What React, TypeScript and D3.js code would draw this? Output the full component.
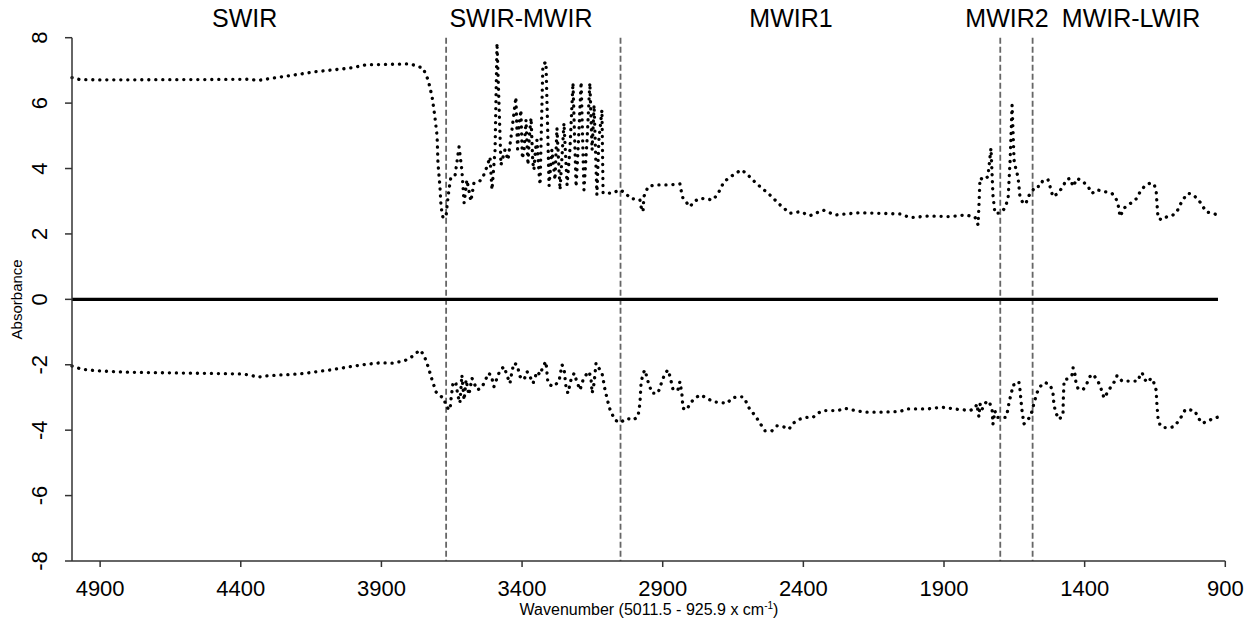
import React from "react";
import * as d3 from "d3";

const W = 1247;
const H = 625;

// axes
const xDomain = [5000, 900];
const yDomain = [-8, 8];
const xTicks = [4900, 4400, 3900, 3400, 2900, 2400, 1900, 1400, 900];
const yTicks = [-8, -6, -4, -2, 0, 2, 4, 6, 8];

// spectral regions
const regionBounds = [3670, 3050, 1700, 1585];
const regionLabels = ["SWIR", "SWIR-MWIR", "MWIR1", "MWIR2", "MWIR-LWIR"];
const regionLabelAt = [4386, 3404, 2444, 1676, 1235];

// [wavenumber, absorbance]
const upperSpectrum: [number, number][] = [
  [5000, 6.78], [4972, 6.72], [4900, 6.71], [4545, 6.72], [4367, 6.73], [4342, 6.69],
  [4250, 6.81], [4133, 6.96], [4012, 7.07], [3955, 7.17], [3798, 7.2], [3752, 7.07],
  [3734, 6.71], [3720, 6.2], [3710, 5.59], [3702, 4.98], [3699, 4.17], [3692, 3.45],
  [3688, 2.83], [3681, 2.49], [3670, 2.55], [3667, 2.83], [3660, 3.35], [3653, 3.74],
  [3638, 3.8], [3624, 4.66], [3614, 3.95], [3606, 2.95], [3596, 3.65], [3582, 3.0],
  [3571, 3.56], [3550, 3.62], [3539, 3.74], [3525, 4.05], [3514, 4.35], [3507, 3.35],
  [3496, 4.57], [3489, 7.84], [3475, 4.11], [3461, 4.57], [3450, 4.26], [3436, 5.18],
  [3422, 6.18], [3416, 4.6], [3411, 5.33], [3404, 5.79], [3399, 4.3], [3393, 4.57],
  [3386, 5.49], [3379, 4.11], [3374, 5.0], [3368, 5.55], [3362, 4.2], [3358, 3.96],
  [3352, 4.6], [3347, 4.87], [3340, 3.9], [3336, 3.5], [3326, 7.17], [3315, 7.26],
  [3304, 3.47], [3294, 4.57], [3283, 3.65], [3276, 5.24], [3265, 3.35], [3251, 5.39],
  [3240, 3.5], [3230, 4.57], [3219, 6.62], [3208, 3.44], [3201, 4.57], [3190, 6.65],
  [3180, 3.35], [3169, 4.87], [3159, 6.62], [3151, 4.57], [3144, 5.94], [3134, 3.2],
  [3127, 4.87], [3116, 5.79], [3112, 3.25], [3095, 3.25], [3080, 3.24], [3052, 3.35],
  [3031, 3.24], [3016, 3.09], [2981, 3.04], [2977, 2.83], [2970, 2.68], [2967, 3.14],
  [2952, 3.45], [2927, 3.5], [2874, 3.5], [2839, 3.53], [2835, 3.35], [2828, 3.09],
  [2803, 2.83], [2789, 2.99], [2767, 3.09], [2721, 3.04], [2703, 3.24], [2682, 3.6],
  [2650, 3.8], [2621, 3.96], [2604, 3.86], [2568, 3.55], [2519, 3.19], [2483, 2.89],
  [2448, 2.63], [2412, 2.68], [2376, 2.56], [2330, 2.73], [2288, 2.58], [2199, 2.65],
  [2056, 2.61], [2021, 2.5], [1950, 2.55], [1879, 2.53], [1825, 2.58], [1790, 2.52],
  [1779, 2.28], [1776, 2.83], [1772, 3.71], [1758, 3.65], [1744, 3.75], [1733, 4.62],
  [1726, 3.19], [1719, 2.63], [1701, 2.64], [1683, 2.79], [1672, 3.1], [1665, 4.26],
  [1658, 5.94], [1651, 4.26], [1644, 3.96], [1637, 3.75], [1630, 3.14], [1619, 2.94],
  [1609, 2.92], [1601, 3.14], [1587, 3.29], [1577, 3.45], [1559, 3.45], [1548, 3.65],
  [1530, 3.65], [1523, 3.45], [1513, 3.14], [1495, 3.24], [1477, 3.45], [1466, 3.65],
  [1452, 3.7], [1441, 3.45], [1427, 3.7], [1406, 3.6], [1388, 3.45], [1374, 3.24],
  [1356, 3.35], [1328, 3.29], [1303, 3.24], [1289, 3.09], [1281, 2.89], [1274, 2.53],
  [1260, 2.79], [1228, 2.99], [1214, 3.09], [1203, 3.29], [1186, 3.47], [1168, 3.55],
  [1154, 3.53], [1146, 3.35], [1143, 2.94], [1139, 2.48], [1125, 2.43], [1107, 2.53],
  [1086, 2.58], [1072, 2.68], [1061, 2.89], [1047, 3.09], [1033, 3.24], [1018, 3.22],
  [997, 3.06], [983, 2.89], [969, 2.68], [947, 2.63], [926, 2.58],
];

const lowerSpectrum: [number, number][] = [
  [5000, -2.04], [4964, -2.14], [4900, -2.19], [4794, -2.23], [4545, -2.26], [4403, -2.28],
  [4367, -2.31], [4342, -2.38], [4296, -2.33], [4189, -2.28], [4083, -2.16], [4012, -2.06],
  [3958, -1.99], [3905, -1.94], [3859, -1.95], [3816, -1.87], [3791, -1.75], [3763, -1.55],
  [3749, -1.7], [3734, -2.06], [3720, -2.46], [3706, -2.83], [3692, -2.95], [3678, -3.02],
  [3670, -3.28], [3656, -3.38], [3653, -3.08], [3645, -2.52], [3635, -2.57], [3628, -2.95],
  [3621, -3.17], [3614, -2.31], [3606, -3.08], [3599, -2.46], [3589, -2.92], [3578, -2.41],
  [3560, -2.77], [3546, -2.72], [3532, -2.52], [3521, -2.26], [3510, -2.31], [3500, -2.67],
  [3489, -2.41], [3478, -2.16], [3464, -2.06], [3450, -2.41], [3443, -2.57], [3436, -2.21],
  [3429, -1.95], [3418, -2.0], [3407, -2.36], [3393, -2.46], [3382, -2.21], [3372, -2.36],
  [3361, -2.57], [3347, -2.21], [3336, -2.31], [3326, -2.06], [3315, -1.9], [3308, -2.57],
  [3290, -2.67], [3269, -2.52], [3258, -2.0], [3251, -2.1], [3244, -2.67], [3237, -2.87],
  [3226, -2.46], [3215, -2.26], [3205, -2.52], [3194, -2.77], [3183, -2.46], [3169, -2.26],
  [3162, -2.21], [3155, -2.41], [3151, -2.87], [3144, -2.57], [3137, -1.95], [3127, -2.1],
  [3116, -2.25], [3105, -2.77], [3095, -3.13], [3087, -3.38], [3070, -3.69], [3052, -3.77],
  [3027, -3.64], [3006, -3.69], [2988, -3.59], [2981, -3.18], [2977, -2.57], [2970, -2.26],
  [2963, -2.16], [2952, -2.52], [2938, -2.87], [2917, -2.87], [2903, -2.52], [2892, -2.26],
  [2881, -2.16], [2874, -2.36], [2863, -2.77], [2846, -2.77], [2839, -2.52], [2832, -2.87],
  [2828, -3.33], [2814, -3.38], [2803, -3.18], [2785, -3.02], [2767, -2.92], [2743, -3.02],
  [2721, -3.13], [2671, -3.18], [2654, -3.02], [2636, -2.98], [2615, -2.98], [2600, -3.18],
  [2590, -3.38], [2572, -3.54], [2554, -3.79], [2536, -4.02], [2512, -4.02], [2494, -3.87],
  [2472, -3.89], [2451, -3.97], [2437, -3.79], [2412, -3.66], [2387, -3.61], [2366, -3.61],
  [2348, -3.48], [2330, -3.4], [2277, -3.4], [2252, -3.33], [2227, -3.38], [2181, -3.45],
  [2128, -3.45], [2056, -3.43], [2032, -3.35], [1957, -3.35], [1907, -3.3], [1854, -3.36],
  [1808, -3.4], [1790, -3.33], [1783, -3.2], [1779, -3.43], [1776, -3.59], [1772, -3.2],
  [1765, -3.38], [1761, -3.28], [1747, -3.1], [1737, -3.18], [1729, -3.38], [1726, -3.82],
  [1719, -3.41], [1712, -3.61], [1680, -3.61], [1673, -3.38], [1669, -3.16], [1658, -2.77],
  [1655, -2.62], [1641, -2.59], [1634, -2.52], [1630, -2.75], [1626, -3.13], [1623, -3.38],
  [1616, -3.81], [1601, -3.67], [1591, -3.54], [1584, -3.3], [1577, -3.08], [1569, -2.85],
  [1559, -2.67], [1541, -2.54], [1523, -2.62], [1513, -2.82], [1509, -3.23], [1502, -3.48],
  [1491, -3.67], [1477, -3.54], [1476, -3.08], [1473, -2.46], [1459, -2.43], [1445, -2.31],
  [1441, -2.09], [1434, -2.31], [1431, -2.54], [1424, -2.72], [1406, -2.77], [1392, -2.57],
  [1381, -2.36], [1370, -2.29], [1356, -2.46], [1346, -2.62], [1331, -3.02], [1317, -2.82],
  [1303, -2.62], [1289, -2.46], [1285, -2.33], [1267, -2.5], [1210, -2.5], [1203, -2.31],
  [1196, -2.24], [1186, -2.46], [1175, -2.54], [1164, -2.41], [1154, -2.55], [1146, -2.77],
  [1143, -3.23], [1139, -3.64], [1132, -3.84], [1122, -3.92], [1097, -3.92], [1082, -3.89],
  [1068, -3.74], [1054, -3.56], [1043, -3.38], [1036, -3.36], [1008, -3.41], [997, -3.61],
  [983, -3.79], [965, -3.74], [944, -3.64], [926, -3.6],
];

const baseline: [number, number][] = [[5000, 0], [926, 0]];

const font = "Arial, 'Liberation Sans', sans-serif";

export default function App() {
  const x = d3.scaleLinear().domain(xDomain).range([72, 1225.3]);
  const y = d3.scaleLinear().domain(yDomain).range([561, 37.7]);
  const line = d3
    .line<[number, number]>()
    .x((d) => x(d[0]))
    .y((d) => y(d[1]));

  const [x0, x1] = x.range();
  const [yb, yt] = y.range();

  const dotted = {
    fill: "none",
    stroke: "#000",
    strokeWidth: 3.3,
    strokeLinecap: "round" as const,
    strokeLinejoin: "round" as const,
    strokeDasharray: "0.1 6.9",
  };

  return (
    <div style={{ position: "absolute", left: 0, top: 0 }}>
      <svg width={W} height={H} style={{ display: "block", background: "#fff" }} fontFamily={font}>
        {/* region separators */}
        {regionBounds.map((b) => (
          <line
            key={b}
            x1={x(b)}
            x2={x(b)}
            y1={yt}
            y2={yb}
            stroke="#666"
            strokeWidth={1.8}
            strokeDasharray="6 3"
          />
        ))}

        {/* spectra */}
        <path d={line(upperSpectrum) || ""} {...dotted} />
        <path d={line(lowerSpectrum) || ""} {...dotted} />
        <path d={line(baseline) || ""} fill="none" stroke="#000" strokeWidth={3.2} />

        {/* y axis */}
        <line x1={x0} x2={x0} y1={yt} y2={yb} stroke="#333" strokeWidth={1.5} />
        {yTicks.map((t) => (
          <g key={t}>
            <line x1={x0 - 7} x2={x0} y1={y(t)} y2={y(t)} stroke="#333" strokeWidth={1.5} />
            <text
              transform={`translate(47,${y(t)}) rotate(-90)`}
              textAnchor="middle"
              fontSize={22}
              fill="#000"
            >
              {t}
            </text>
          </g>
        ))}
        <text transform={`translate(22,${y(0)}) rotate(-90)`} textAnchor="middle" fontSize={15}>
          Absorbance
        </text>

        {/* x axis */}
        <line x1={x0} x2={x1} y1={yb} y2={yb} stroke="#333" strokeWidth={1.5} />
        {xTicks.map((t) => (
          <g key={t}>
            <line x1={x(t)} x2={x(t)} y1={yb} y2={yb + 6} stroke="#333" strokeWidth={1.5} />
            <text x={x(t)} y={596} textAnchor="middle" fontSize={22}>
              {t}
            </text>
          </g>
        ))}
        <text x={649} y={615} textAnchor="middle" fontSize={16}>
          Wavenumber (5011.5 - 925.9 x cm
          <tspan fontSize={10} dy={-6}>-1</tspan>
          <tspan dy={6}>)</tspan>
        </text>

        {/* region labels */}
        {regionLabels.map((l, i) => (
          <text key={l} x={x(regionLabelAt[i])} y={27} textAnchor="middle" fontSize={25}>
            {l}
          </text>
        ))}
      </svg>
    </div>
  );
}
